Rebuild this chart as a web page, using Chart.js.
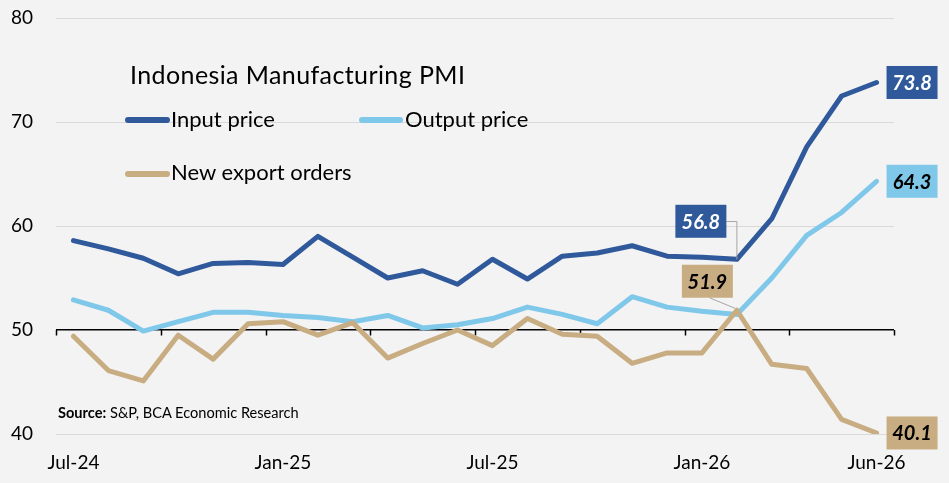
<!DOCTYPE html>
<html><head><meta charset="utf-8">
<script src="https://cdn.jsdelivr.net/npm/chart.js@4.4.1/dist/chart.umd.min.js"></script>
<style>
html,body{margin:0;padding:0;background:#f3f3f3;}
#wrap{position:relative;width:949px;height:483px;font-family:Lato,"Open Sans",sans-serif;color:#000;overflow:hidden;}
canvas{position:absolute;left:0;top:0;}
.t{position:absolute;white-space:nowrap;line-height:1;}
.sw{position:absolute;height:6px;border-radius:3px;}
</style></head><body>
<div id="wrap">
<canvas id="c" width="949" height="483"></canvas>
<div class="t" style="left:130px;top:62px;font-size:25px;letter-spacing:0.4px">Indonesia Manufacturing PMI</div>
<div class="sw" style="left:125px;top:117px;width:45px;background:#30599B"></div>
<div class="t" style="left:171px;top:108.2px;font-size:22px">Input price</div>
<div class="sw" style="left:359px;top:117px;width:44px;background:#80C8EA"></div>
<div class="t" style="left:405px;top:108.2px;font-size:22px">Output price</div>
<div class="sw" style="left:125px;top:171px;width:45px;background:#C8AC82"></div>
<div class="t" style="left:171px;top:161px;font-size:22px">New export orders</div>
<div class="t" style="left:58px;top:405.5px;font-size:14.6px"><b>Source:</b> S&amp;P, BCA Economic Research</div>
</div>
<script>
const months = ['Jul-24','Aug-24','Sep-24','Oct-24','Nov-24','Dec-24','Jan-25','Feb-25','Mar-25','Apr-25','May-25','Jun-25',
                'Jul-25','Aug-25','Sep-25','Oct-25','Nov-25','Dec-25','Jan-26','Feb-26','Mar-26','Apr-26','May-26','Jun-26'];
const shownLabels = ['Jul-24','Jan-25','Jul-25','Jan-26','Jun-26'];
const inputPrice   = [58.6,57.8,56.9,55.4,56.4,56.5,56.3,59.0,57.0,55.0,55.7,54.4,56.8,54.9,57.1,57.4,58.1,57.1,57.0,56.8,60.7,67.6,72.5,73.8];
const outputPrice  = [52.9,51.9,49.9,50.8,51.7,51.7,51.4,51.2,50.8,51.4,50.2,50.5,51.1,52.2,51.5,50.6,53.2,52.2,51.8,51.5,55.0,59.1,61.3,64.3];
const exportOrders = [49.4,46.1,45.1,49.5,47.2,50.6,50.8,49.5,50.7,47.3,48.7,50.0,48.5,51.1,49.6,49.4,46.8,47.8,47.8,51.9,46.7,46.3,41.4,40.1];
const yTicks = [40,50,60,70,80];

const C_IN = '#30599B', C_OUT = '#80C8EA', C_EXP = '#C8AC82';

const labelSpecs = [
  {ds:0, idx:23, kind:'end', bg:C_IN, fg:'#ffffff'},
  {ds:1, idx:23, kind:'end', bg:C_OUT, fg:'#000000'},
  {ds:2, idx:23, kind:'end', bg:C_EXP, fg:'#000000'},
  {ds:0, idx:19, kind:'elbow', bg:C_IN, fg:'#ffffff', dx:-36, dy:-38},
  {ds:2, idx:19, kind:'diag', bg:C_EXP, fg:'#000000', dx:-29.5, dy:-29}
];

const axisTicks = {
  id:'axisTicks',
  beforeDatasetsDraw(chart){
    const {ctx, scales:{x,y}} = chart;
    const y50 = y.getPixelForValue(50);
    ctx.save();
    ctx.strokeStyle = '#000'; ctx.lineWidth = 1.5;
    for(let k=0;k<=months.length;k+=3){
      const px = Math.round(x.getPixelForValue(k-0.5))+0.5;
      ctx.beginPath(); ctx.moveTo(px,y50); ctx.lineTo(px,y50+5.5); ctx.stroke();
    }
    ctx.restore();
  }
};

const dataLabels = {
  id:'dataLabels',
  afterDatasetsDraw(chart){
    const ctx = chart.ctx;
    ctx.save();
    ctx.font = 'italic bold 20px Lato, sans-serif';
    ctx.textAlign = 'center'; ctx.textBaseline = 'middle';
    labelSpecs.forEach(s=>{
      const pt = chart.getDatasetMeta(s.ds).data[s.idx];
      const val = chart.data.datasets[s.ds].data[s.idx];
      const w = 51, h = 33;
      let cx, cy;
      if(s.kind==='end'){ cx = pt.x + 10 + w/2; cy = pt.y; }
      else { cx = pt.x + s.dx; cy = pt.y + s.dy; }
      ctx.strokeStyle = '#a6a6a6'; ctx.lineWidth = 1;
      if(s.kind==='elbow'){
        ctx.beginPath(); ctx.moveTo(cx+w/2, Math.round(cy)+0.5); ctx.lineTo(pt.x, Math.round(cy)+0.5); ctx.lineTo(pt.x, pt.y); ctx.stroke();
      } else if(s.kind==='diag'){
        ctx.beginPath(); ctx.moveTo(cx+2, cy+h/2); ctx.lineTo(pt.x-2, pt.y-2); ctx.stroke();
      }
      ctx.fillStyle = s.bg;
      ctx.fillRect(cx-w/2, cy-h/2, w, h);
      ctx.fillStyle = s.fg;
      ctx.fillText(val.toFixed(1), cx, cy+1);
    });
    ctx.restore();
  }
};

new Chart(document.getElementById('c'), {
  type:'line',
  data:{
    labels: months,
    datasets:[
      {label:'Input price', data:inputPrice, borderColor:C_IN, order:3},
      {label:'Output price', data:outputPrice, borderColor:C_OUT, order:2},
      {label:'New export orders', data:exportOrders, borderColor:C_EXP, order:1}
    ]
  },
  options:{
    responsive:false, animation:false,
    layout:{padding:{top:18,right:55,left:0,bottom:0}},
    elements:{
      line:{borderWidth:5, tension:0, borderCapStyle:'round', borderJoinStyle:'round', fill:false},
      point:{radius:0, hoverRadius:0}
    },
    plugins:{legend:{display:false}, title:{display:false}, tooltip:{enabled:false}},
    scales:{
      x:{
        type:'category', offset:true,
        grid:{display:false, drawTicks:false},
        border:{display:false},
        ticks:{
          autoSkip:false, maxRotation:0, minRotation:0, padding:17,
          color:'#000', font:{family:'Lato', size:19},
          callback:(v,i)=> shownLabels.includes(months[i]) ? months[i] : ''
        },
        afterFit:(s)=>{ s.height = 49; s.paddingLeft = 0; s.paddingRight = 0; }
      },
      y:{
        min:40, max:80,
        afterBuildTicks:(s)=>{ s.ticks = yTicks.map(v=>({value:v})); },
        grid:{
          drawTicks:false,
          color:(c)=> c.tick && c.tick.value===50 ? '#000000' : '#d9d9d9',
          lineWidth:(c)=> c.tick && c.tick.value===50 ? 1.5 : 1
        },
        border:{display:false},
        ticks:{padding:23, color:'#000', font:{family:'Lato', size:19}},
        afterFit:(s)=>{ s.width = 56; s.paddingTop = 0; s.paddingBottom = 0; }
      }
    }
  },
  plugins:[axisTicks, dataLabels]
});
</script>
</body></html>
